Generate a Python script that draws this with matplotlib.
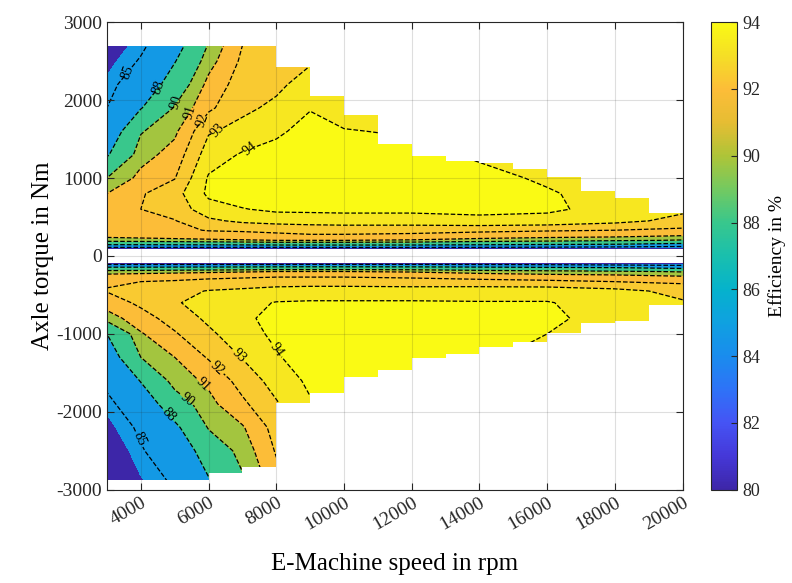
import numpy as np
import matplotlib
matplotlib.use('Agg')
import matplotlib.pyplot as plt
from matplotlib.colors import LinearSegmentedColormap, Normalize
from matplotlib.patches import Polygon
from matplotlib.cm import ScalarMappable

plt.rcParams['font.family'] = 'Liberation Serif'
plt.rcParams['axes.unicode_minus'] = False

# grid of operating points
speed = [3000, 4000, 5000, 6000, 7000, 8000, 9000, 10000, 12000, 14000, 16000, 18000, 20000]
torque = [85, 110, 150, 200, 260, 330, 450, 600, 800, 1000, 1300, 1600, 1900, 2200, 2500, 2900]

# efficiency in %, motor mode (positive torque), rows = torque, cols = speed
eff_pos = [
    [80.5, 80.5, 80.5, 80.5, 80.5, 80.5, 80.5, 80.5, 80.5, 80.5, 80.5, 80.4, 80.3],
    [85.0, 85.0, 85.0, 85.0, 85.0, 85.0, 85.2, 85.2, 85.2, 85.0, 84.8, 84.5, 84.0],
    [88.5, 88.5, 88.6, 88.7, 88.8, 89.0, 89.0, 89.0, 88.9, 88.6, 88.3, 88.0, 87.5],
    [90.5, 90.6, 90.7, 90.8, 90.9, 91.0, 91.0, 91.0, 90.9, 90.6, 90.4, 90.2, 89.9],
    [91.3, 91.4, 91.5, 91.6, 91.7, 91.8, 91.9, 91.9, 91.8, 91.6, 91.4, 91.3, 91.0],
    [91.6, 91.7, 91.8, 92.05, 92.1, 92.2, 92.3, 92.3, 92.3, 92.2, 92.1, 92.0, 91.8],
    [91.8, 91.9, 91.95, 92.8, 93.2, 93.4, 93.5, 93.6, 93.6, 93.8, 93.7, 93.3, 92.7],
    [91.7, 92.0, 92.4, 93.6, 93.95, 94.2, 94.2, 94.2, 94.2, 94.2, 94.15, 93.7, 93.2],
    [91.0, 91.9, 92.6, 94.2, 94.5, 94.6, 94.7, 94.7, 94.6, 94.4, 94.1, 93.6, 93.3],
    [90.0, 91.3, 91.95, 94.1, 94.5, 94.7, 94.8, 94.8, 94.6, 94.3, 93.85, 93.4, 93.2],
    [87.8, 90.6, 91.4, 93.5, 94.1, 94.3, 94.6, 94.5, 94.3, 93.85, 93.5, 93.1, 92.9],
    [86.5, 89.9, 90.8, 92.9, 93.3, 93.85, 94.3, 94.05, 93.9, 93.4, 93.1, 92.8, 92.6],
    [85.0, 87.9, 90.1, 91.8, 92.8, 93.2, 93.95, 93.6, 93.5, 93.0, 92.8, 92.5, 92.3],
    [84.3, 86.5, 89.0, 91.3, 92.5, 92.8, 93.4, 93.2, 93.1, 92.7, 92.5, 92.2, 92.0],
    [83.5, 85.2, 87.9, 90.6, 92.2, 92.5, 92.9, 92.9, 92.8, 92.4, 92.2, 91.9, 91.7],
    [82.3, 84.0, 86.2, 89.6, 91.8, 92.1, 92.4, 92.5, 92.4, 92.1, 91.8, 91.5, 91.3],
]

# efficiency in %, generator mode (negative torque), same torque magnitudes
eff_neg = [
    [80.5, 80.5, 80.5, 80.5, 80.5, 80.5, 80.5, 80.5, 80.5, 80.5, 80.5, 80.4, 80.3],
    [85.0, 85.0, 85.0, 85.0, 85.0, 85.0, 85.2, 85.2, 85.2, 85.0, 84.8, 84.5, 84.0],
    [88.5, 88.5, 88.6, 88.7, 88.8, 89.0, 89.0, 89.0, 88.9, 88.6, 88.3, 88.0, 87.5],
    [90.5, 90.6, 90.7, 90.8, 90.9, 91.0, 91.0, 91.0, 90.9, 90.6, 90.4, 90.2, 89.9],
    [91.4, 91.5, 91.6, 91.7, 91.8, 91.9, 91.9, 91.9, 91.8, 91.6, 91.4, 91.3, 91.0],
    [91.9, 92.0, 92.1, 92.3, 92.4, 92.5, 92.5, 92.5, 92.4, 92.3, 92.2, 92.0, 91.8],
    [92.05, 92.4, 92.7, 93.05, 93.2, 93.4, 93.5, 93.5, 93.5, 93.6, 93.6, 93.3, 92.7],
    [91.5, 92.2, 92.9, 93.4, 93.7, 94.05, 94.1, 94.1, 94.1, 94.05, 94.05, 93.6, 93.1],
    [90.5, 91.6, 92.4, 93.2, 93.8, 94.3, 94.5, 94.6, 94.5, 94.4, 94.2, 93.6, 93.2],
    [88.0, 90.9, 91.9, 92.8, 93.6, 94.2, 94.6, 94.7, 94.6, 94.4, 94.0, 93.4, 93.1],
    [86.8, 90.0, 91.0, 92.1, 93.05, 93.9, 94.5, 94.6, 94.5, 94.2, 93.6, 93.1, 92.8],
    [85.6, 88.1, 90.5, 91.2, 92.4, 93.4, 94.2, 94.4, 94.3, 93.9, 93.3, 92.8, 92.5],
    [84.4, 86.7, 89.2, 90.7, 91.8, 92.9, 93.9, 94.1, 94.0, 93.6, 93.0, 92.5, 92.2],
    [83.5, 85.4, 87.6, 90.1, 90.9, 92.4, 93.5, 93.7, 93.6, 93.2, 92.7, 92.2, 91.9],
    [82.5, 84.8, 86.5, 89.0, 90.4, 92.1, 93.1, 93.3, 93.2, 92.9, 92.4, 91.9, 91.6],
    [81.5, 83.8, 85.3, 87.8, 89.8, 91.6, 92.7, 92.9, 92.8, 92.5, 92.1, 91.6, 91.3],
]

# full load limits (step per speed band)
edges_pos = [3000, 8000, 9000, 10000, 11000, 12000, 13000, 14000, 15000, 16000, 17000, 18000, 19000, 20000]
tmax_pos = [2700, 2420, 2050, 1810, 1440, 1280, 1220, 1190, 1110, 1010, 830, 740, 550]
edges_neg = [3000, 6000, 7000, 8000, 9000, 10000, 11000, 12000, 13000, 14000, 15000, 16000, 17000, 18000, 19000, 20000]
tmin_neg = [-2870, -2780, -2710, -1885, -1760, -1550, -1460, -1310, -1255, -1165, -1100, -990, -860, -830, -630]
t_zero = 85

line_levels = [85, 88, 90, 91, 92, 93, 94]
fill_levels = [70, 84, 88, 90, 91, 92, 93, 94, 100]
fill_ref = [80, 84.6, 88, 89.8, 92, 92.4, 93.3, 94]

# parula-like map (80 ... 94 %)
parula_rgb = [(0.24, 0.15, 0.66), (0.27, 0.22, 0.85), (0.27, 0.33, 0.96), (0.18, 0.45, 0.97),
              (0.10, 0.55, 0.93), (0.06, 0.63, 0.88), (0.02, 0.70, 0.80), (0.10, 0.75, 0.68),
              (0.22, 0.78, 0.55), (0.45, 0.79, 0.38), (0.68, 0.77, 0.22), (0.90, 0.74, 0.20),
              (0.99, 0.74, 0.22), (0.96, 0.87, 0.15), (0.98, 0.98, 0.08)]
cmap = LinearSegmentedColormap.from_list('parula', parula_rgb)
norm = Normalize(80, 94)
fill_colors = [cmap(norm(v)) for v in fill_ref]


def stair(edges, lims, t0):
    pts = [(edges[0], t0), (edges[-1], t0)]
    for i in range(len(lims) - 1, -1, -1):
        pts.append((edges[i + 1], lims[i]))
        pts.append((edges[i], lims[i]))
    return pts


fig = plt.figure(figsize=(7.92, 5.83), dpi=100)
ax = fig.add_axes([0.135, 0.16, 0.727, 0.802])

S, T = np.meshgrid(speed, torque)
label_pos = {
    1: [(3700, 2350), (4660, 2150), (5000, 1970), (5400, 1850), (5760, 1745), (6350, 1590), (7620, 1270)],
    -1: [(4070, -2330), (4900, -2010), (5300, -1870), (5760, -1680), (6200, -1460), (7120, -1180), (8300, -1115)],
}
for sign, eff, edges, lims in [(1, eff_pos, edges_pos, tmax_pos), (-1, eff_neg, edges_neg, tmin_neg)]:
    clip = Polygon(stair(edges, lims, sign * t_zero), closed=True, transform=ax.transData)
    cf = ax.contourf(S, sign * T, np.array(eff), levels=fill_levels, colors=fill_colors)
    cf.set_clip_path(clip)
    cl = ax.contour(S, sign * T, np.array(eff), levels=line_levels, colors='k',
                    linestyles='--', linewidths=0.9)
    ax.clabel(cl, fmt='%d', fontsize=10, inline=True, inline_spacing=2, manual=label_pos[sign])
    cl.set_clip_path(clip)

ax.set_xlim(3000, 20000)
ax.set_ylim(-3000, 3000)
ax.set_xticks(np.arange(4000, 20001, 2000))
ax.set_yticks(np.arange(-3000, 3001, 1000))
ax.set_axisbelow(False)
ax.grid(True, color=(0.15, 0.15, 0.15), alpha=0.15, linewidth=0.8)
ax.tick_params(direction='in', top=True, right=True, length=5, width=0.8,
               labelsize=14, colors=(0.15, 0.15, 0.15))
for lab in ax.get_xticklabels():
    lab.set_rotation(30)
    lab.set_ha('right')
    lab.set_rotation_mode('anchor')
for sp in ax.spines.values():
    sp.set_color((0.15, 0.15, 0.15))
ax.set_xlabel('E-Machine speed in rpm', fontsize=18, labelpad=14)
ax.set_ylabel('Axle torque in Nm', fontsize=18, labelpad=2)

cax = fig.add_axes([0.898, 0.16, 0.033, 0.802])
cb = fig.colorbar(ScalarMappable(norm=norm, cmap=cmap), cax=cax)
cb.set_ticks(np.arange(80, 95, 2))
cb.ax.tick_params(direction='in', length=4, labelsize=13, colors=(0.15, 0.15, 0.15))
cb.outline.set_edgecolor((0.15, 0.15, 0.15))
cb.set_label('Efficiency in %', fontsize=14, labelpad=6)

fig.savefig('out.png', dpi=100)
